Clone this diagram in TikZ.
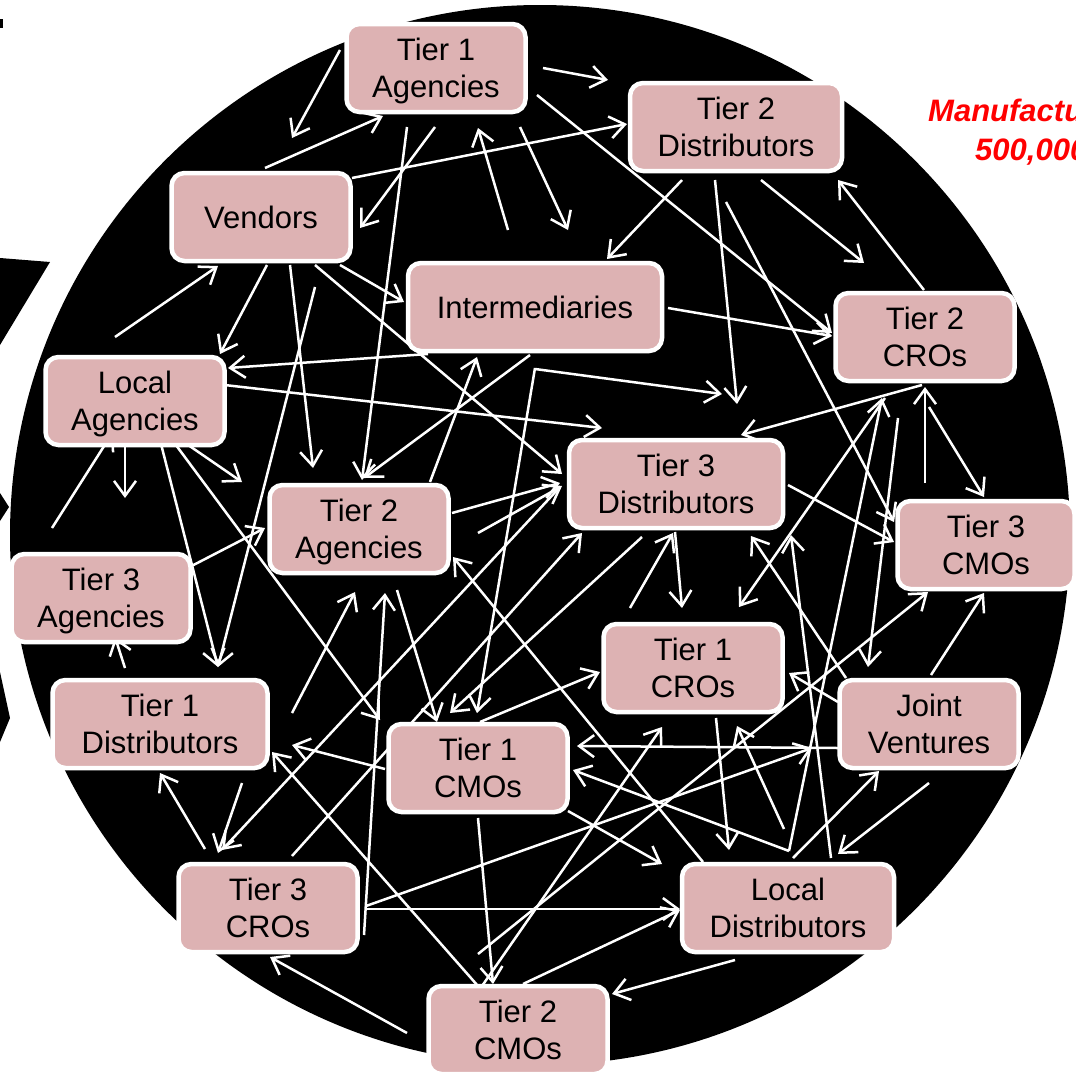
\documentclass[tikz,border=0pt]{standalone}
\usepackage{fontspec}
\setmainfont{Liberation Sans}
\usetikzlibrary{arrows.meta,calc,backgrounds}
\definecolor{boxpink}{RGB}{221,178,179}
\tikzset{
  box/.style={draw=white, line width=4.5pt, fill=boxpink, rounded corners=13pt,
    minimum height=88pt, minimum width=179pt, align=center, inner sep=0pt,
    font=\fontsize{31}{37}\selectfont, text=black},
  flow/.style={draw=white, line width=2.5pt, -{Straight Barb[length=15pt,width=22pt]}},
  caption/.style={anchor=base west, inner sep=0pt, text=red,
    font=\fontsize{31}{36}\selectfont\bfseries\itshape},
}

\begin{document}
\begin{tikzpicture}[x=1pt,y=-1pt]
\useasboundingbox (0,0) rectangle (1076,1074);
\clip (0,0) rectangle (1076,1074);

% boxes
\node[box] (t1a) at (436,68) {Tier 1\\\smash{Agencies}};
\node[box, minimum width=212pt] (t2d) at (736,127) {Tier 2\\Distributors};
\node[box] (ven) at (261,217) {Vendors};
\node[box, minimum width=254pt] (inter) at (535,307) {Intermediaries};
\node[box] (t2cro) at (925,337) {Tier 2\\CROs};
\node[box] (lag) at (135,401) {Local\\\smash{Agencies}};
\node[box, minimum width=214pt] (t3d) at (676,484) {Tier 3\\Distributors};
\node[box] (t2a) at (359,529) {Tier 2\\\smash{Agencies}};
\node[box, minimum width=177pt] (t3cmo) at (986,545) {Tier 3\\CMOs};
\node[box] (t3a) at (101,598) {Tier 3\\\smash{Agencies}};
\node[box] (t1cro) at (693,668) {Tier 1\\CROs};
\node[box, minimum width=215pt] (t1d) at (160,724) {Tier 1\\Distributors};
\node[box] (jv) at (929,724) {Joint\\Ventures};
\node[box] (t1cmo) at (478,768) {Tier 1\\CMOs};
\node[box] (t3cro) at (268,908) {Tier 3\\CROs};
\node[box, minimum width=212pt] (ldist) at (788,908) {Local\\Distributors};
\node[box] (t2cmo) at (518,1030) {Tier 2\\CMOs};

% loose ends
\coordinate (e1) at (115,337);
\coordinate (e2) at (52,528);
\coordinate (e3) at (292,713);
\coordinate (e4) at (478,954);

% red caption
\node[caption] (maker) at (928,121) {Manufactu};
\node[caption] (count) at (975,160) {500,000};

\begin{scope}[on background layer]
\fill[black] (540,535) circle (530pt);
\fill[black] (0,19) rectangle (3,28);
\fill[black] (0,258) -- (50,262) -- (0,345) -- cycle;
\fill[black] (0,493) -- (9,507) -- (0,521) -- cycle;
\fill[black] (0,672) -- (10,718) -- (0,742) -- cycle;

% from Tier 1 Agencies
\draw[flow] ($(t1a)+(-96,-18)$) -- ($(ven)+(31,-79)$);
\draw[flow] ($(t1a)+(-29,59)$) -- ($(t2a)+(3,-49)$);
\draw[flow] ($(t1a)+(-1,59)$) -- ($(ven)+(99,11)$);
\draw[flow] ($(t1a)+(84,59)$) -- ($(inter)+(33,-77)$);
\draw[flow] ($(t1a)+(107,0)$) -- ($(t2d)+(-128,-47)$);
\draw[flow] ($(t1a)+(101,27)$) -- ($(t2cro)+(-93,-4)$);
% from Vendors
\draw[flow] ($(ven)+(4,-49)$) -- ($(t1a)+(-53,48)$);
\draw[flow] ($(ven)+(6,48)$) -- ($(lag)+(85,-47)$);
\draw[flow] ($(ven)+(29,48)$) -- ($(t2a)+(-46,-61)$);
\draw[flow] ($(ven)+(54,70)$) -- ($(t1d)+(58,-57)$);
\draw[flow] ($(ven)+(79,48)$) -- ($(inter)+(-131,-5)$);
\draw[flow] ($(ven)+(54,48)$) -- ($(t3d)+(-114,-10)$);
\draw[flow] ($(ven)+(91,-39)$) -- ($(t2d)+(-109,-3)$);
\draw[flow] (e1) -- ($(ven)+(-43,49)$);
% from Tier 2 Distributors
\draw[flow] ($(t2d)+(-54,53)$) -- ($(inter)+(72,-48)$);
\draw[flow] ($(t2d)+(-21,53)$) -- ($(t3d)+(61,-80)$);
\draw[flow] ($(t2d)+(25,53)$) -- ($(t2cro)+(-61,-74)$);
\draw[flow] ($(t2d)+(-10,75)$) -- ($(t3cmo)+(-92,-23)$);
% from Intermediaries
\draw[flow] ($(inter)+(-27,-77)$) -- ($(t1a)+(42,60)$);
\draw[flow] ($(inter)+(133,1)$) -- ($(t2cro)+(-93,-1)$);
\draw[flow] ($(inter)+(0,62)$) -- ($(t3d)+(46,-90)$);
\draw[flow] ($(inter)+(-107,47)$) -- ($(lag)+(93,-33)$);
\draw[flow] ($(inter)+(-5,48)$) -- ($(t2a)+(5,-51)$);
\draw[flow] ($(inter)+(0,61)$) -- ($(t1cmo)+(-1,-55)$);
% from Tier 2 CROs
\draw[flow] ($(t2cro)+(-1,-47)$) -- ($(t2d)+(102,53)$);
\draw[flow] ($(t2cro)+(-27,81)$) -- ($(jv)+(-61,-57)$);
\draw[flow] ($(t2cro)+(-40,61)$) -- ($(t1cro)+(46,-61)$);
\draw[flow] ($(t2cro)+(-3,48)$) -- ($(t3d)+(65,-49)$);
\draw[flow] ($(t2cro)+(4,70)$) -- ($(t3cmo)+(-2,-48)$);
% from Local Agencies
\draw[flow] ($(lag)+(25,39)$) -- ($(t1d)+(58,-57)$);
\draw[flow] ($(lag)+(72,-18)$) -- ($(t3d)+(-74,-56)$);
\draw[flow] ($(lag)+(-10,39)$) -- ($(t3a)+(24,-100)$);
\draw[flow] ($(lag)+(43,37)$) -- ($(t2a)+(-117,-47)$);
\draw[flow] ($(lag)+(32,32)$) -- ($(t1cmo)+(-98,-48)$);
\draw[flow] (e2) -- ($(lag)+(-22,31)$);
% from Tier 3 Distributors
\draw[flow] ($(t3d)+(112,1)$) -- ($(t3cmo)+(-92,-3)$);
\draw[flow] ($(t3d)+(-116,3)$) -- ($(t3cro)+(-46,-58)$);
\draw[flow] ($(t3d)+(-1,48)$) -- ($(t1cro)+(-11,-60)$);
\draw[flow] ($(t3d)+(-34,53)$) -- ($(t1cmo)+(-28,-55)$);
% from Tier 2 Agencies
\draw[flow] ($(t2a)+(71,-47)$) -- ($(inter)+(-58,50)$);
\draw[flow] ($(t2a)+(93,-16)$) -- ($(t3d)+(-116,-1)$);
\draw[flow] ($(t2a)+(119,4)$) -- ($(t3d)+(-114,2)$);
\draw[flow] ($(t2a)+(38,61)$) -- ($(t1cmo)+(-41,-46)$);
\draw[flow] (e3) -- ($(t2a)+(-4,63)$);
% from Tier 3 CMOs and Tier 3 Agencies
\draw[flow] ($(t3cmo)+(-61,-62)$) -- ($(t2cro)+(0,50)$);
\draw[flow] ($(t3a)+(77,-25)$) -- ($(t2a)+(-94,-1)$);
% from Tier 1 CROs
\draw[flow] ($(t1cro)+(-63,-60)$) -- ($(t3d)+(-3,49)$);
\draw[flow] ($(t1cro)+(23,50)$) -- ($(ldist)+(-59,-58)$);
% from Tier 1 Distributors
\draw[flow] ($(t1d)+(-35,-56)$) -- ($(t3a)+(14,39)$);
\draw[flow] ($(t1d)+(82,59)$) -- ($(t3cro)+(-50,-55)$);
% from Joint Ventures
\draw[flow] ($(jv)+(-91,24)$) -- ($(t1cmo)+(99,-22)$);
\draw[flow] ($(jv)+(-83,-46)$) -- ($(t3d)+(75,52)$);
\draw[flow] ($(jv)+(2,-49)$) -- ($(t3cmo)+(-2,48)$);
\draw[flow] ($(jv)+(-91,-22)$) -- ($(t1cro)+(96,5)$);
\draw[flow] ($(jv)+(0,59)$) -- ($(ldist)+(50,-54)$);
% from Tier 1 CMOs
\draw[flow] ($(t1cmo)+(2,-46)$) -- ($(t1cro)+(-93,4)$);
\draw[flow] ($(t1cmo)+(-93,1)$) -- ($(t1d)+(132,21)$);
\draw[flow] ($(t1cmo)+(0,50)$) -- ($(t2cmo)+(-25,-46)$);
\draw[flow] ($(t1cmo)+(90,43)$) -- ($(ldist)+(-126,-44)$);
% from Tier 3 CROs
\draw[flow] ($(t3cro)+(-63,-59)$) -- ($(t1d)+(0,49)$);
\draw[flow] ($(t3cro)+(24,-52)$) -- ($(t3d)+(-94,49)$);
\draw[flow] ($(t3cro)+(96,27)$) -- ($(t2a)+(26,64)$);
\draw[flow] ($(t3cro)+(98,1)$) -- ($(ldist)+(-108,1)$);
\draw[flow] ($(t3cro)+(98,-2)$) -- ($(jv)+(-117,24)$);
% from Local Distributors
\draw[flow] ($(ldist)+(-85,-46)$) -- ($(t2a)+(94,28)$);
\draw[flow] ($(ldist)+(1,-57)$) -- ($(t1cmo)+(95,2)$);
\draw[flow] ($(ldist)+(-4,-79)$) -- ($(t1cro)+(44,58)$);
\draw[flow] ($(ldist)+(-53,52)$) -- ($(t2cmo)+(94,-36)$);
\draw[flow] ($(ldist)+(43,-50)$) -- ($(t3d)+(115,51)$);
\draw[flow] ($(ldist)+(1,-57)$) -- ($(t2cro)+(-43,61)$);
\draw[flow] ($(ldist)+(5,-50)$) -- ($(jv)+(-50,47)$);
% from Tier 2 CMOs
\draw[flow] ($(t2cmo)+(-40,-44)$) -- ($(t1d)+(112,28)$);
\draw[flow] ($(t2cmo)+(-36,-44)$) -- ($(t1cro)+(-31,59)$);
\draw[flow] ($(t2cmo)+(5,-46)$) -- ($(ldist)+(-108,2)$);
\draw[flow] ($(t2cmo)+(-111,3)$) -- ($(t3cro)+(2,49)$);
\draw[flow] (e4) -- ($(t3cmo)+(-58,47)$);
\end{scope}
\end{tikzpicture}
\end{document}
